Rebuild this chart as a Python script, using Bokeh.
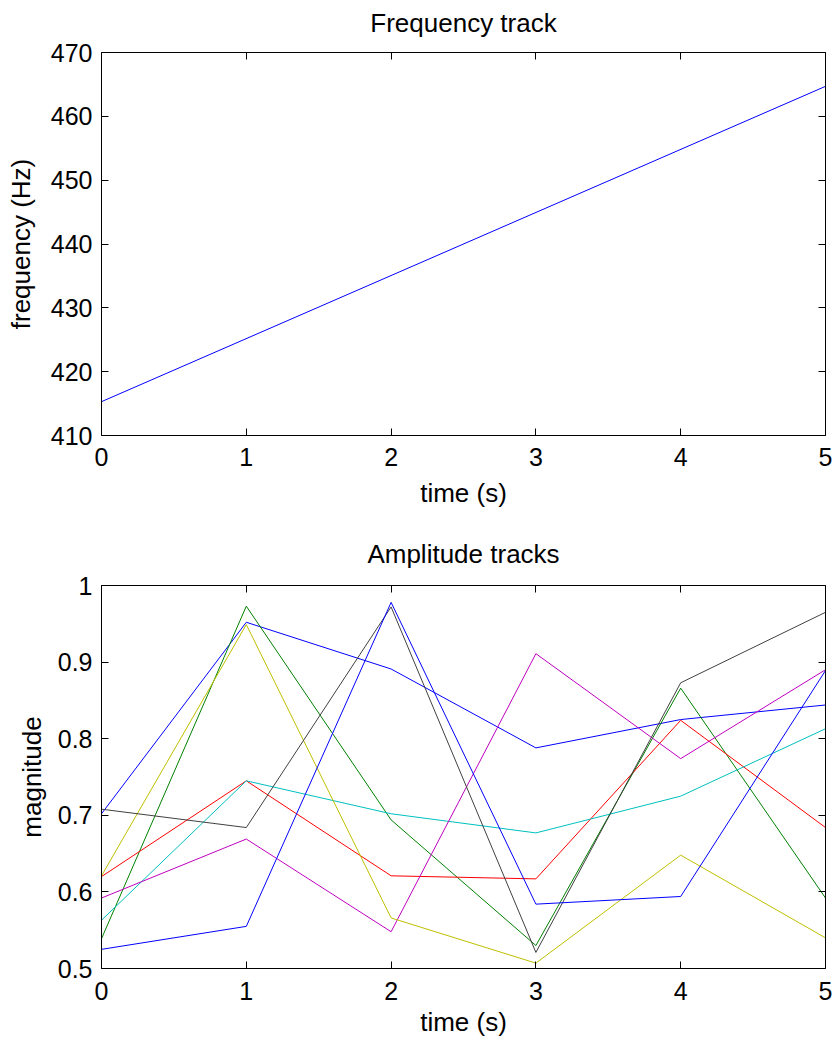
from bokeh.plotting import figure
from bokeh.models import Range1d, FixedTicker, LinearAxis, CustomJSTickFormatter
from bokeh.layouts import column
from bokeh.embed import file_html
from bokeh.resources import INLINE

# ---- data ----
freq_time = [0, 5]
freq_hz = [415.3, 464.7]

amp_time = [0, 1, 2, 3, 4, 5]
amp_blue1 = [0.702, 0.952, 0.891, 0.788, 0.825, 0.844]
amp_green = [0.539, 0.973, 0.694, 0.530, 0.866, 0.592]
amp_red = [0.620, 0.745, 0.621, 0.617, 0.824, 0.684]
amp_cyan = [0.563, 0.745, 0.702, 0.677, 0.725, 0.813]
amp_magenta = [0.592, 0.669, 0.548, 0.911, 0.774, 0.890]
amp_yellow = [0.621, 0.949, 0.566, 0.507, 0.648, 0.540]
amp_gray = [0.708, 0.684, 0.972, 0.521, 0.873, 0.965]
amp_blue2 = [0.525, 0.555, 0.978, 0.584, 0.594, 0.889]

x_ticks = [0, 1, 2, 3, 4, 5]
freq_ticks = [410, 420, 430, 440, 450, 460, 470]
amp_ticks = [0.5, 0.6, 0.7, 0.8, 0.9, 1.0]
amp_tick_labels = ["0.5", "0.6", "0.7", "0.8", "0.9", "1"]

series = [amp_blue1, amp_green, amp_red, amp_cyan, amp_magenta, amp_yellow, amp_gray, amp_blue2]
colors = ["#0000FF", "#008000", "#FF0000", "#00BFBF", "#BF00BF", "#BFBF00", "#404040", "#0000FF"]

FONT = "Liberation Sans"
TICK_FS = "25px"
LAB_FS = "26px"
W = 833


def style(p, yticks, title, ylabel, title_standoff, xtick_standoff, xlab_standoff,
          ylab_standoff, overrides=None):
    p.xaxis.ticker = FixedTicker(ticks=x_ticks)
    p.yaxis.ticker = FixedTicker(ticks=yticks)
    p.grid.visible = False
    p.outline_line_color = None
    p.background_fill_color = "white"
    p.border_fill_color = "white"
    for ax in p.xaxis + p.yaxis:
        ax.axis_line_color = "black"
        ax.axis_line_width = 1
        ax.major_tick_in = 7
        ax.major_tick_out = 0
        ax.minor_tick_line_color = None
        ax.major_tick_line_color = "black"
        ax.major_label_text_font = FONT
        ax.major_label_text_font_size = TICK_FS
        ax.major_label_text_color = "black"
        ax.axis_label_text_font = FONT
        ax.axis_label_text_font_size = LAB_FS
        ax.axis_label_text_font_style = "normal"
        ax.axis_label_text_color = "black"
    p.xaxis.major_label_standoff = xtick_standoff
    p.yaxis.major_label_standoff = 9
    p.xaxis.axis_label = "time (s)"
    p.xaxis.axis_label_standoff = xlab_standoff
    p.yaxis.axis_label = ylabel
    p.yaxis.axis_label_standoff = ylab_standoff
    if overrides:
        p.yaxis.major_label_overrides = overrides
    # box axes (top and right), ticks only; the top one carries the title
    top = LinearAxis(ticker=FixedTicker(ticks=x_ticks))
    right = LinearAxis(ticker=FixedTicker(ticks=yticks))
    for ax in (top, right):
        ax.axis_line_color = "black"
        ax.major_tick_in = 7
        ax.major_tick_out = 0
        ax.minor_tick_line_color = None
        ax.formatter = CustomJSTickFormatter(code="return ''")
        ax.major_label_text_font_size = "0px"
        ax.major_label_standoff = 0
    top.axis_label = title
    top.axis_label_text_font = FONT
    top.axis_label_text_font_size = LAB_FS
    top.axis_label_text_font_style = "normal"
    top.axis_label_text_color = "black"
    top.axis_label_standoff = title_standoff
    p.add_layout(top, "above")
    p.add_layout(right, "right")


# ---- top: frequency track ----
p1 = figure(width=W, height=510, x_range=Range1d(0, 5), y_range=Range1d(410, 470),
            output_backend="svg", toolbar_location=None, title=None,
            min_border_left=101, min_border_right=8, min_border_top=52, min_border_bottom=75)
style(p1, freq_ticks, "Frequency track", "frequency (Hz)", 15, 12, 9, 12)
p1.line(freq_time, freq_hz, line_color="#0000FF", line_width=1)

# ---- bottom: amplitude tracks ----
p2 = figure(width=W, height=530, x_range=Range1d(0, 5), y_range=Range1d(0.5, 1.0),
            output_backend="svg", toolbar_location=None, title=None,
            min_border_left=101, min_border_right=8, min_border_top=75, min_border_bottom=72)
style(p2, amp_ticks, "Amplitude tracks", "magnitude", 17, 13, 4, 8,
      overrides=dict(zip(amp_ticks, amp_tick_labels)))
for vals, c in zip(series, colors):
    p2.line(amp_time, vals, line_color=c, line_width=1)

layout = column(p1, p2, spacing=0)
open("out.html", "w").write(file_html(layout, INLINE))
